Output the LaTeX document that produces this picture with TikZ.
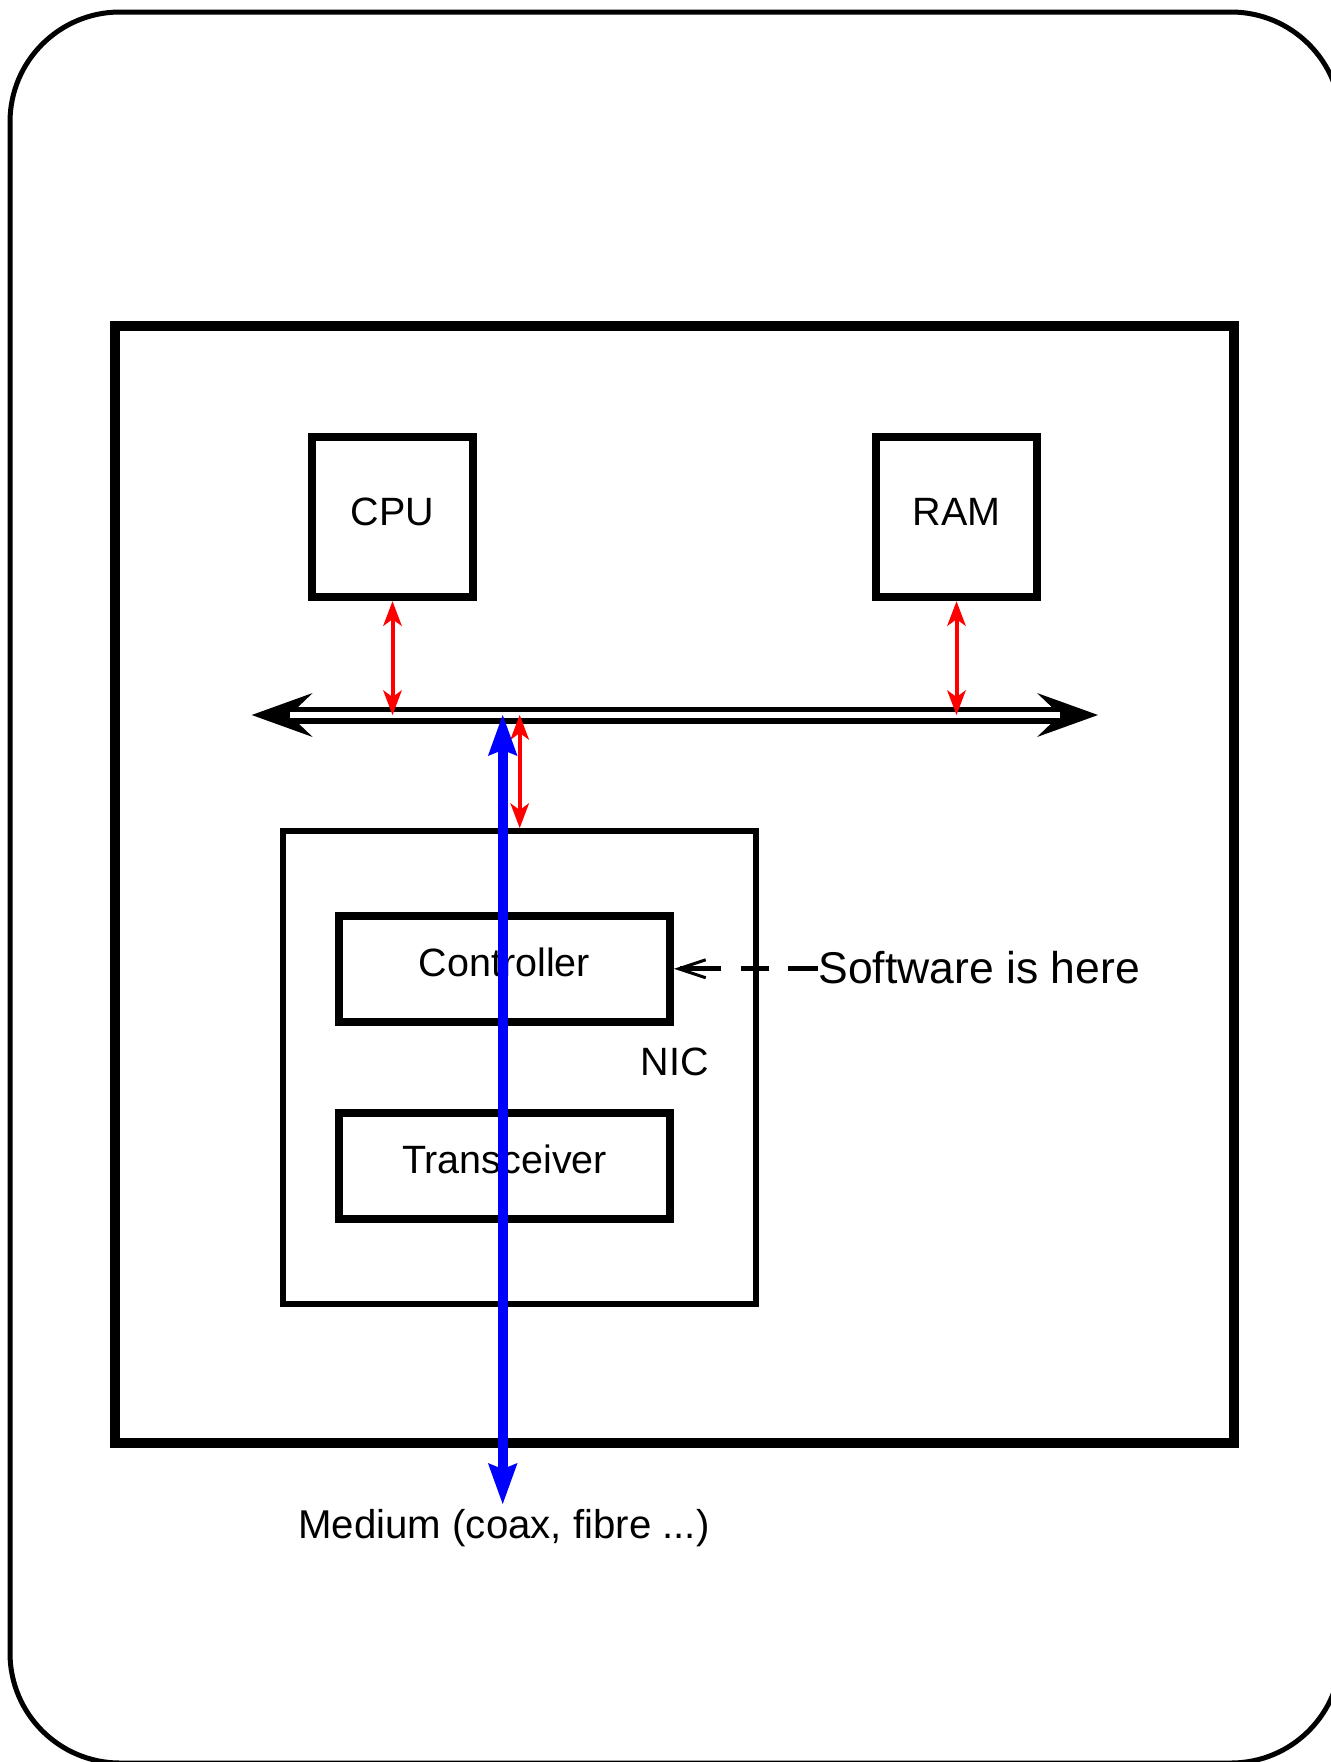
\documentclass[tikz,border=0pt]{standalone}
\usepackage{fontspec}
\setmainfont{Liberation Sans}
\usetikzlibrary{arrows.meta}

\begin{document}
\begin{tikzpicture}[
  x=0.5pt,
  y=-0.5pt,
  frame/.style={draw=black, line width=2.5pt, rounded corners=55pt},
  hostbox/.style={draw=black, line width=5pt, inner sep=0pt},
  unit/.style={
    draw=black,
    line width=4pt,
    minimum width=80.5pt,
    minimum height=80.25pt,
    inner sep=0pt,
    text depth=5.3pt,
    font=\fontsize{19.75}{24}\selectfont
  },
  part/.style={
    draw=black,
    line width=4pt,
    minimum width=165.5pt,
    minimum height=53pt,
    inner sep=0pt,
    text depth=7pt,
    font=\fontsize{19.75}{24}\selectfont
  },
  nicbox/.style={draw=black, line width=3pt, inner sep=0pt,
    minimum width=236.4pt, minimum height=236.5pt},
  caption/.style={inner sep=0pt, anchor=base, font=\fontsize{19.75}{24}\selectfont},
  busline/.style={draw=black, line width=8.5pt,
    {Stealth[length=30.5pt, width=22pt, inset=11.5pt, line width=0pt]}-%
    {Stealth[length=30.5pt, width=22pt, inset=11.5pt, line width=0pt]}},
  link/.style={draw=red, line width=2pt,
    {Stealth[length=12.5pt, width=9.5pt, inset=3.5pt, line width=0pt]}-%
    {Stealth[length=12.5pt, width=9.5pt, inset=3.5pt, line width=0pt]}},
  signal/.style={draw=blue, line width=5pt,
    {Stealth[length=20.5pt, width=14.8pt, inset=3pt, line width=0pt]}-%
    {Stealth[length=20.5pt, width=14.8pt, inset=3pt, line width=0pt]}},
  pointer/.style={draw=black, line width=2.5pt,
    dash pattern=on 15pt off 9.3pt on 14pt off 10pt on 40pt,
    -{Straight Barb[length=13.5pt, width=9pt, line width=1.5pt]}}
]
\useasboundingbox (0,0) rectangle (1330,1762);

% outer frame, cut by the page on the right and at the bottom
\draw[frame] (10,12) rectangle (1341,1763);

\node[hostbox, minimum width=559.5pt, minimum height=558.5pt] (host) at (674.5,884.5) {};

\node[unit] (cpu) at (392.5,517) {CPU};
\node[unit] (ram) at (956.5,517) {RAM};

\coordinate (busL) at (251.7,715);
\coordinate (busR) at (1098,715);

\node[nicbox] (nic) at (519.7,1067.5) {};
\node[caption] (nictxt) at (675,1075) {NIC};

\node[part] (ctrl)  at (504.5,968.75) {Controller};
\node[part] (trans) at (504.5,1166) {Transceiver};

\node[caption, anchor=base west, font=\fontsize{22.25}{26}\selectfont] (sw) at (818,983.3) {Software is here};

\coordinate (medium) at (502.7,1504);
\node[caption, font=\fontsize{20.1}{24}\selectfont] (mediumtxt) at (504,1538.3) {Medium (coax, fibre ...)};

% the bus: black line with a white core
\draw[busline] (busL) -- (busR);
\draw[white, line width=3pt, shorten <=19pt, shorten >=19pt] (busL) -- (busR);

\draw[link] (cpu.south) -- (cpu.south |- busL);
\draw[link] (ram.south) -- (ram.south |- busL);
\draw[link] (nic.north |- busL) -- (nic.north);

\draw[pointer] (sw.west |- ctrl.east) -- (ctrl.east);

\draw[signal] (medium |- busL) -- (medium);

\end{tikzpicture}
\end{document}
